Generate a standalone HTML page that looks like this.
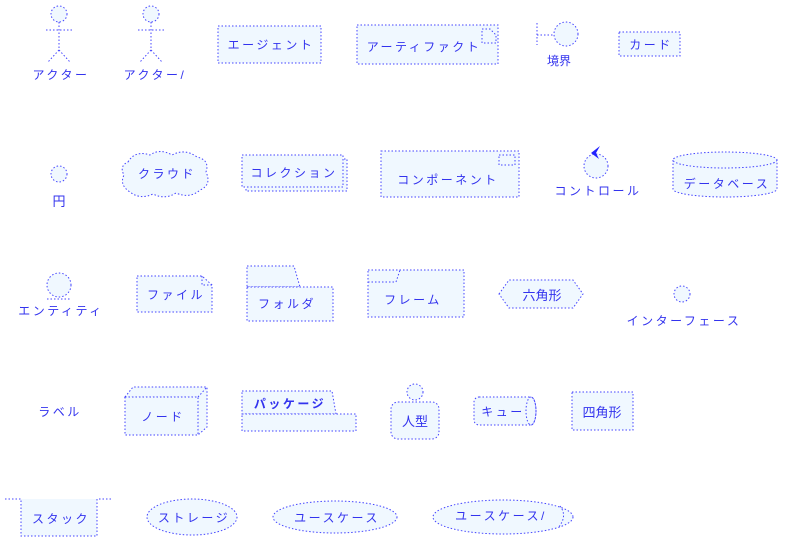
<!DOCTYPE html>
<html><head><meta charset="utf-8"><style>
html,body{margin:0;padding:0;background:#fff;}
svg{display:block;}
text{font-family:"Liberation Sans","Noto Sans CJK JP",sans-serif;font-size:12px;fill:#3333ee;text-anchor:middle;letter-spacing:2.5px;}
.s{fill:#f0f8ff;stroke:#4444ff;stroke-width:1;stroke-dasharray:1.5,2;}
.l{fill:none;stroke:#4444ff;stroke-width:1;stroke-dasharray:1.5,2;}
</style></head><body>
<svg width="793" height="542" viewBox="0 0 793 542" xmlns="http://www.w3.org/2000/svg">
<circle class="s" cx="59" cy="14" r="8"/>
<path class="l" d="M59 22V50M46 30H72M59 50L48 62M59 50L70 62"/>
<text x="61" y="79">アクター</text>
<circle class="s" cx="151" cy="14" r="8"/>
<path class="l" d="M151 22V50M138 30H164M151 50L140 62M151 50L162 62"/>
<text x="155" y="79">アクター/</text>
<rect class="s" x="218" y="26" width="103" height="37"/>
<text x="271" y="49">エージェント</text>
<rect class="s" x="357" y="25" width="141" height="39"/>
<path class="l" d="M482 29H490L496 35V43H482Z"/>
<text x="424" y="51">アーティファクト</text>
<path class="l" d="M537 23V45M537 35H554"/>
<circle class="s" cx="566" cy="34" r="12"/>
<text x="559" y="65" style="letter-spacing:0">境界</text>
<rect class="s" x="619" y="32" width="61" height="24"/>
<text x="651" y="49">カード</text>
<circle class="s" cx="59" cy="174" r="8"/>
<text x="59" y="206" style="letter-spacing:0;font-size:13px">円</text>
<path class="s" d="M128 162Q135 150 150 155Q160 148 172 155Q185 148 197 157Q210 160 206 172Q212 185 200 190Q190 199 176 193Q165 200 153 194Q140 200 130 192Q119 185 124 175Q119 166 128 162Z"/>
<text x="167" y="178">クラウド</text>
<rect class="s" x="246" y="159" width="101" height="32"/>
<rect class="s" x="242" y="155" width="101" height="32"/>
<text x="294" y="177">コレクション</text>
<rect class="s" x="381" y="151" width="138" height="46"/>
<rect class="l" x="499" y="155" width="16" height="10"/>
<text x="448" y="184">コンポーネント</text>
<circle class="s" cx="596" cy="166" r="12"/>
<path d="M600 146L591 153L599 159L596 153Z" fill="#2222ff"/>
<text x="598" y="195">コントロール</text>
<path class="s" d="M673 160V189A52 8 0 0 0 777 189V160"/>
<ellipse class="s" cx="725" cy="160" rx="52" ry="8"/>
<text x="727" y="188">データベース</text>
<circle class="s" cx="59" cy="285" r="12"/>
<path class="l" d="M47 299H71"/>
<text x="61" y="315">エンティティ</text>
<path class="s" d="M137 276H202L212 285V312H137Z"/>
<path class="l" d="M202 276V285H212"/>
<text x="176" y="299">ファイル</text>
<path class="s" d="M247 266H294L300 287H247Z"/>
<rect class="s" x="247" y="287" width="86" height="34"/>
<text x="287" y="308">フォルダ</text>
<rect class="s" x="368" y="270" width="96" height="47"/>
<path class="l" d="M368 282H396L400 270"/>
<text x="413" y="304">フレーム</text>
<path class="s" d="M499 294L509 280H573L583 294L573 308H509Z"/>
<text x="542" y="300" style="letter-spacing:0;font-size:13px">六角形</text>
<circle class="s" cx="682" cy="294" r="8"/>
<text x="684" y="325">インターフェース</text>
<text x="60" y="416">ラベル</text>
<path class="s" d="M125 397L133 387H207V427L198 435V397Z"/>
<path class="l" d="M198 397L207 387"/>
<rect class="s" x="125" y="397" width="73" height="38"/>
<text x="163" y="421">ノード</text>
<path class="s" d="M242 391H332L336 414H242Z"/>
<rect class="s" x="242" y="414" width="114" height="17"/>
<text x="290" y="408" style="font-weight:bold">パッケージ</text>
<circle class="s" cx="415" cy="392" r="8"/>
<rect class="s" x="391" y="402" width="48" height="37" rx="7"/>
<text x="415" y="426" style="letter-spacing:0;font-size:13px">人型</text>
<path class="s" d="M479 397H531A5 14 0 0 1 531 425H479A5 5 0 0 1 474 420V402A5 5 0 0 1 479 397Z"/>
<ellipse class="l" cx="531" cy="411" rx="5" ry="14"/>
<text x="503" y="416">キュー</text>
<rect class="s" x="572" y="392" width="61" height="38"/>
<text x="602" y="417" style="letter-spacing:0;font-size:13px">四角形</text>
<path class="s" d="M21 499V536H97V499Z" style="stroke:none"/>
<path class="l" d="M5 499H21V536H97V499H113"/>
<text x="61" y="523">スタック</text>
<ellipse class="s" cx="192" cy="517" rx="45" ry="18"/>
<text x="194" y="522">ストレージ</text>
<ellipse class="s" cx="335" cy="517" rx="62" ry="16"/>
<text x="337" y="522">ユースケース</text>
<ellipse class="s" cx="503" cy="517" rx="70" ry="17"/>
<path class="l" d="M560 506Q568 516 558 528"/>
<text x="501" y="520">ユースケース/</text>
</svg>
</body></html>
